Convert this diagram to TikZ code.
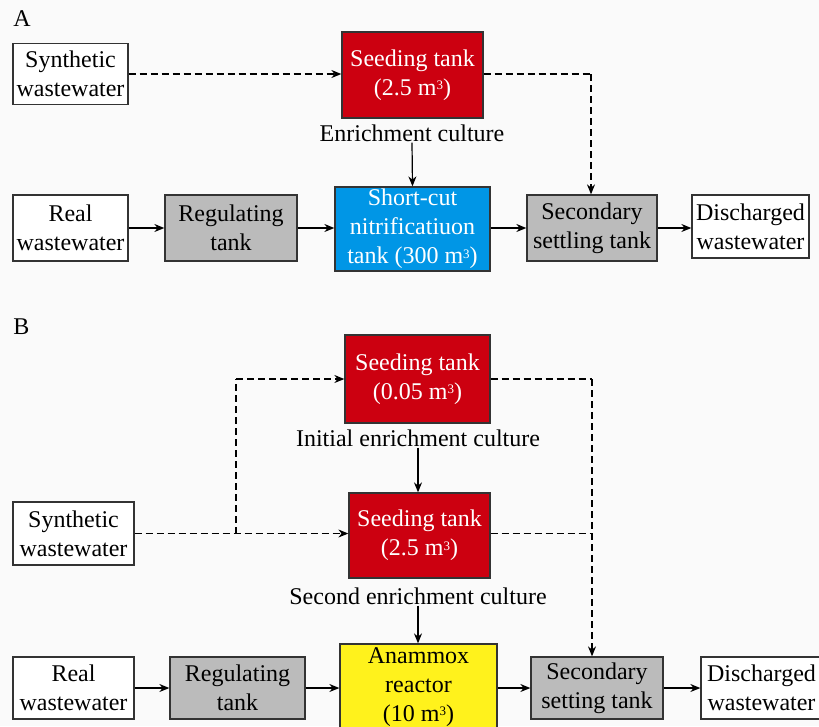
\documentclass[tikz,border=0pt]{standalone}
\usepackage{fontspec}
\setmainfont{Liberation Serif}
\usetikzlibrary{arrows.meta}
\definecolor{bgc}{HTML}{FAFAFA}
\definecolor{redbox}{HTML}{CC0010}
\definecolor{bluebox}{HTML}{0096E6}
\definecolor{yellowbox}{HTML}{FFF21C}
\definecolor{graybox}{HTML}{BBBBBB}
\definecolor{edgec}{HTML}{333333}
\newcommand{\cubic}{\raisebox{0.5ex}{\fontsize{13}{13}\selectfont 3}}
\begin{document}
\begin{tikzpicture}[x=1pt,y=-1pt,
  every node/.style={font=\fontsize{24}{29}\selectfont},
  box/.style={draw=edgec,line width=1.3pt,inner sep=0pt,align=center},
  whitebox/.style={box,fill=white,text=black},
  redb/.style={box,fill=redbox,text=white},
  blueb/.style={box,fill=bluebox,text=white},
  yellowb/.style={box,fill=yellowbox,text=black},
  grayb/.style={box,fill=graybox,text=black},
  lbl/.style={inner sep=1pt},
  arr/.style={line width=1.2pt,-{Stealth[length=10pt,width=8pt]}},
  darr/.style={arr,dash pattern=on 7pt off 4pt},
  dline/.style={line width=1.2pt,dash pattern=on 7pt off 4pt}]
\useasboundingbox[fill=bgc] (0,0) rectangle (819,726);
% ---------- A ----------
\node[lbl] (labA) at (22,19) {A};
\node[whitebox,minimum width=115pt,minimum height=61pt] (synA) at (70.5,74) {Synthetic\\wastewater};
\node[redb,minimum width=141pt,minimum height=86pt] (seedA) at (412.5,75) {Seeding tank\\(2.5 m\cubic)};
\node[lbl] (enrA) at (412,133) {Enrichment culture};
\node[blueb,minimum width=155pt,minimum height=84pt] (shortA) at (412.5,229) {Short-cut\\nitrificatiuon\\tank (300 m\cubic)};
\node[whitebox,minimum width=115pt,minimum height=66pt] (realA) at (70.5,228) {Real\\wastewater};
\node[grayb,minimum width=132pt,minimum height=66pt] (regA) at (231,228) {Regulating\\tank};
\node[grayb,minimum width=130pt,minimum height=66pt] (secA) at (592,228) {Secondary\\settling tank};
\node[whitebox,minimum width=117pt,minimum height=63pt] (disA) at (750.5,226.5) {Discharged\\wastewater};
\coordinate (cA) at (591,74);
\draw[darr] (synA.east) -- (synA.east -| seedA.west);
\draw[dline] (seedA.east |- cA) -- (cA);
\draw[darr] (cA) -- (cA |- secA.north);
\draw[arr] (enrA.south) -- (shortA.north);
\draw[arr] (realA.east) -- (regA.west);
\draw[arr] (regA.east) -- (regA.east -| shortA.west);
\draw[arr] (shortA.east |- secA.west) -- (secA.west);
\draw[arr] (secA.east) -- (secA.east -| disA.west);
% ---------- B ----------
\node[lbl] (labB) at (21.5,327) {B};
\node[redb,minimum width=145pt,minimum height=88pt] (seedB1) at (417.5,379) {Seeding tank\\(0.05 m\cubic)};
\node[lbl] (initB) at (418,438) {Initial enrichment culture};
\node[redb,minimum width=141pt,minimum height=85pt] (seedB2) at (419.5,535.5) {Seeding tank\\(2.5 m\cubic)};
\node[lbl] (secondB) at (418,596) {Second enrichment culture};
\node[yellowb,minimum width=157pt,minimum height=86pt] (anaB) at (418.5,687) {Anammox\\reactor\\(10 m\cubic)};
\node[whitebox,minimum width=121pt,minimum height=63pt] (synB) at (73.5,533.5) {Synthetic\\wastewater};
\node[whitebox,minimum width=121pt,minimum height=62pt] (realB) at (73.5,688) {Real\\wastewater};
\node[grayb,minimum width=135pt,minimum height=62pt] (regB) at (237.5,688) {Regulating\\tank};
\node[grayb,minimum width=132pt,minimum height=62pt] (secB) at (597,688) {Secondary\\setting tank};
\node[whitebox,minimum width=121pt,minimum height=62pt] (disB) at (761.5,688) {Discharged\\wastewater};
\coordinate (jL) at (236,533.5);
\coordinate (jR1) at (592,379);
\coordinate (jR2) at (592,533.5);
\draw[darr] (synB.east) -- (synB.east -| seedB2.west);
\draw[dline] (jL) -- (jL |- seedB1.west);
\draw[darr] (jL |- seedB1.west) -- (seedB1.west);
\draw[dline] (seedB1.east) -- (jR1);
\draw[dline] (seedB2.east |- jR2) -- (jR2);
\draw[darr] (jR1) -- (jR1 |- secB.north);
\draw[arr] (initB.south) -- (seedB2.north -| initB.south);
\draw[arr] (secondB.south) -- (anaB.north -| secondB.south);
\draw[arr] (realB.east) -- (regB.west);
\draw[arr] (regB.east) -- (regB.east -| anaB.west);
\draw[arr] (anaB.east |- secB.west) -- (secB.west);
\draw[arr] (secB.east) -- (disB.west);
\end{tikzpicture}
\end{document}
